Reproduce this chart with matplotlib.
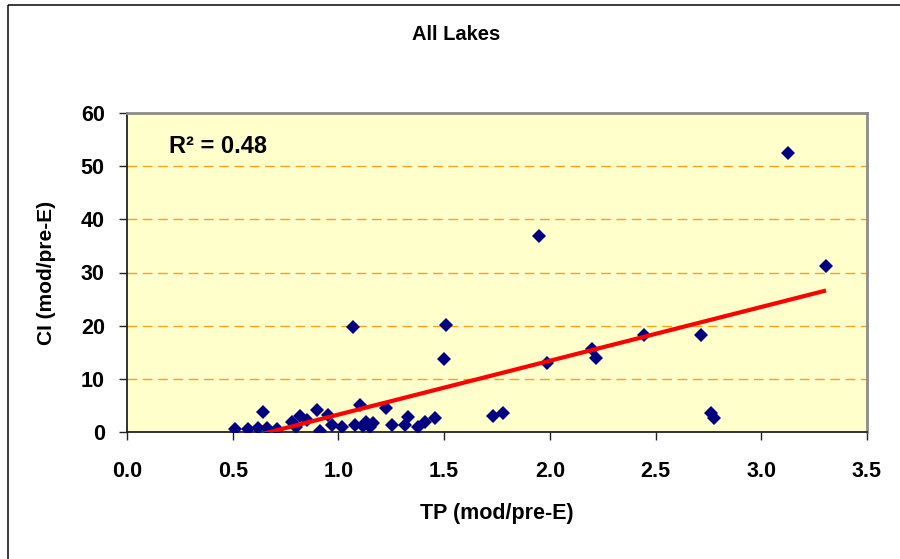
import matplotlib
matplotlib.use("Agg")
import matplotlib.pyplot as plt
from matplotlib.patches import Rectangle
import numpy as np

# TP and CI ratios (modern / pre-European) for all lakes
tp_ratio = [0.51, 0.57, 0.62, 0.645, 0.66, 0.71, 0.78, 0.80, 0.82, 0.85,
            0.897, 0.913, 0.952, 0.97, 1.016, 1.071, 1.078, 1.10, 1.118, 1.13,
            1.15, 1.165, 1.225, 1.252, 1.315, 1.331, 1.378, 1.41, 1.457, 1.50,
            1.509, 1.733, 1.78, 1.95, 1.988, 2.198, 2.217, 2.446, 2.714, 2.763,
            2.774, 3.125, 3.306]
ci_ratio = [0.6, 0.5, 0.7, 3.7, 0.8, 0.6, 1.9, 1.0, 3.1, 2.3,
            4.1, 0.1, 3.2, 1.3, 1.0, 19.8, 1.3, 5.1, 1.2, 1.9,
            0.9, 1.6, 4.6, 1.4, 1.3, 2.9, 1.0, 1.9, 2.6, 13.7,
            20.2, 3.1, 3.5, 36.8, 13.0, 15.7, 14.0, 18.3, 18.3, 3.5,
            2.7, 52.4, 31.2]

# Linear trend line coefficients and fit statistic
trend_slope = 10.12
trend_intercept = -6.84
r_squared = 0.48

x_ticks = [0.0, 0.5, 1.0, 1.5, 2.0, 2.5, 3.0, 3.5]
y_ticks = [0, 10, 20, 30, 40, 50, 60]

plt.rcParams['font.family'] = ['Liberation Sans', 'DejaVu Sans']
plt.rcParams['font.weight'] = 'bold'

W, H = 900, 559
fig = plt.figure(figsize=(W / 100, H / 100), dpi=100)
fig.patch.set_facecolor('white')

# outer chart frame
frame = Rectangle((8 / W, 1 - 5 / H), 2.0, -2.0, transform=fig.transFigure,
                  fill=False, edgecolor='#1a1a1a', linewidth=1.2, zorder=0)
fig.patches.append(frame)

ax = fig.add_axes([127 / W, 1 - 432 / H, (867 - 127) / W, (432 - 113) / H])
ax.set_facecolor('#FFFFCC')

ax.set_xlim(0, 3.5)
ax.set_ylim(0, 60)
ax.set_xticks(x_ticks)
ax.set_yticks(y_ticks)
ax.set_xticklabels([f"{v:.1f}" for v in x_ticks])
ax.set_yticklabels([str(v) for v in y_ticks])

for v in y_ticks[1:-1]:
    ax.axhline(v, color='#F5A31E', linewidth=1.0, dashes=(7, 4), zorder=1)

ax.plot(tp_ratio, ci_ratio, linestyle='none', marker='D', markersize=7.2,
        color='#000080', markeredgewidth=0, zorder=3)

x_fit = np.array([min(tp_ratio), max(tp_ratio)])
y_fit = trend_slope * x_fit + trend_intercept
ax.plot(x_fit, y_fit, color='#FF0000', linewidth=3.0, zorder=4,
        solid_capstyle='butt', clip_on=True)

ax.text(0.057, 0.895, f"R\u00b2 = {r_squared:.2f}", transform=ax.transAxes,
        fontsize=17, fontweight='bold', ha='left', va='center', zorder=5)

for side in ('left', 'bottom'):
    ax.spines[side].set_color('#222222')
    ax.spines[side].set_linewidth(1.3)
for side in ('top', 'right'):
    ax.spines[side].set_color('#8c8c8c')
    ax.spines[side].set_linewidth(2.0)

ax.tick_params(axis='both', direction='out', length=6, width=1.0,
               color='#222222', labelsize=15.5)
ax.tick_params(axis='y', pad=10)
ax.tick_params(axis='x', pad=15)
for lbl in ax.get_xticklabels() + ax.get_yticklabels():
    lbl.set_fontweight('bold')

ax.set_xlabel('TP (mod/pre-E)', fontsize=15.5, fontweight='bold', labelpad=15)
ax.set_ylabel('CI (mod/pre-E)', fontsize=15, fontweight='bold', labelpad=18)

fig.text(456 / W, 1 - 35 / H, 'All Lakes', fontsize=14.5, fontweight='bold',
         ha='center', va='center')

fig.savefig('out.png', dpi=100, facecolor='white')
